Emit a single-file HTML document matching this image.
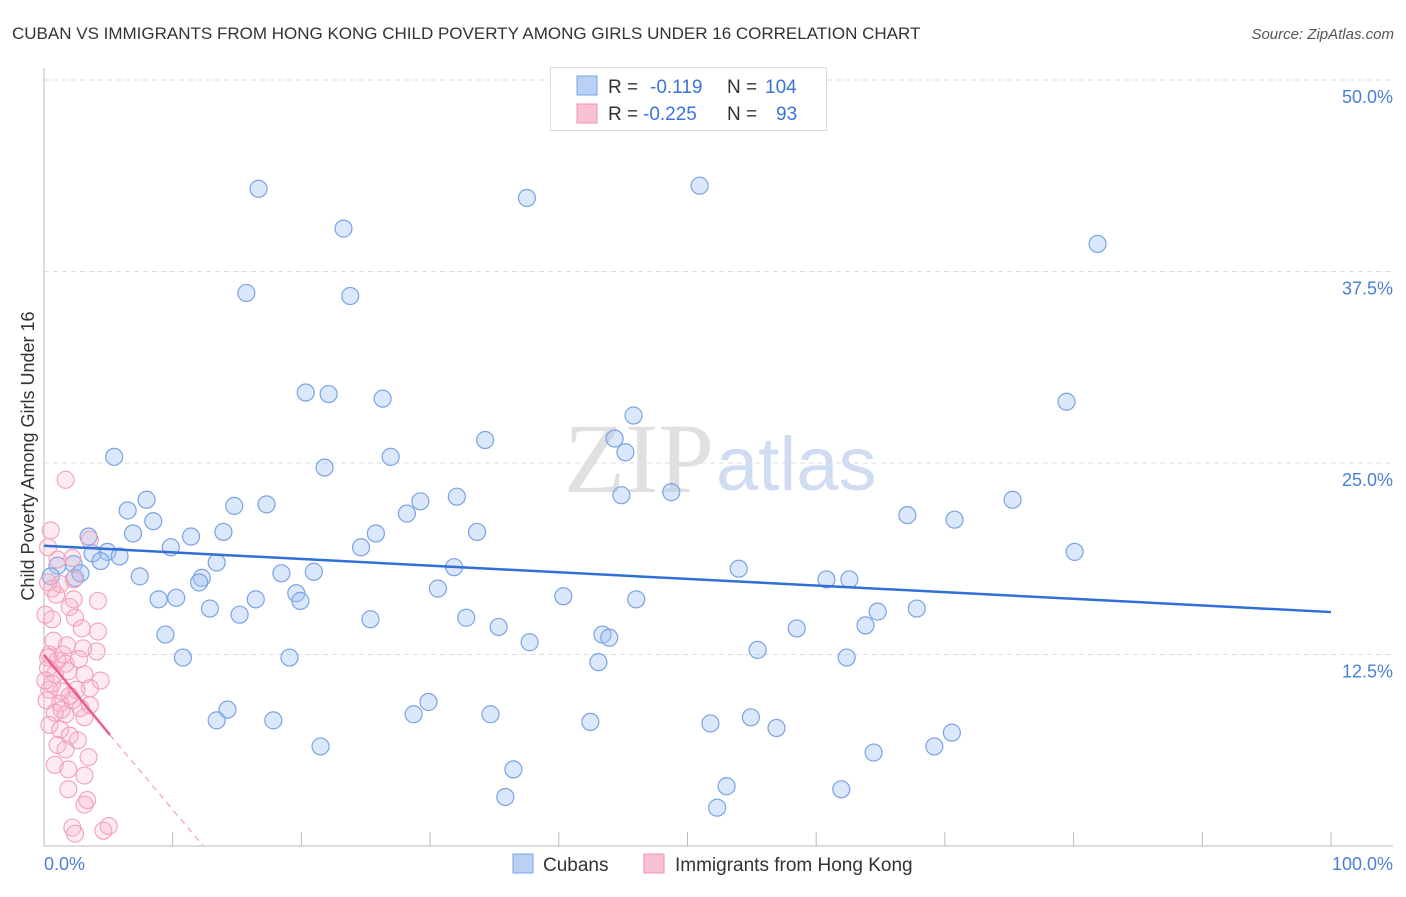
<!DOCTYPE html>
<html><head><meta charset="utf-8"><style>
body{margin:0;background:#fff;font-family:"Liberation Sans",sans-serif;}
</style></head><body>
<svg width="1406" height="892" xmlns="http://www.w3.org/2000/svg" style="font-family:'Liberation Sans',sans-serif">
<text x="12" y="39" font-size="17" fill="#333">CUBAN VS IMMIGRANTS FROM HONG KONG CHILD POVERTY AMONG GIRLS UNDER 16 CORRELATION CHART</text>
<text x="1394" y="39" font-size="15" fill="#555" text-anchor="end" font-style="italic">Source: ZipAtlas.com</text>
<g id="grid"></g>
<text x="714" y="492" font-size="100" fill="#e0e0e0" text-anchor="end" font-family="Liberation Serif">ZIP</text>
<text x="716" y="490" font-size="76" fill="#cfdcf2">atlas</text>
<g id="pts"></g>
<text transform="translate(34,456) rotate(-90)" font-size="18" fill="#333" text-anchor="middle">Child Poverty Among Girls Under 16</text>
<text x="44" y="870" font-size="18" fill="#4a7fd6">0.0%</text>
<text x="1393" y="870" font-size="18" fill="#4a7fd6" text-anchor="end">100.0%</text>
<g>
<rect x="550.5" y="67.5" width="276" height="63" fill="#fff" stroke="#ddd"/>
<rect x="577" y="76" width="20" height="19" fill="#b8d1f5" stroke="#7aa3e5"/>
<rect x="577" y="104" width="20" height="19" fill="#f8c2d3" stroke="#f08fb0"/>
<text x="608" y="93" font-size="19" fill="#333">R =</text>
<text x="650" y="93" font-size="19" fill="#3a74d6">-0.119</text>
<text x="727" y="93" font-size="19" fill="#333">N =</text>
<text x="765" y="93" font-size="19" fill="#3a74d6">104</text>
<text x="608" y="120" font-size="19" fill="#333">R =</text>
<text x="643" y="120" font-size="19" fill="#3a74d6">-0.225</text>
<text x="727" y="120" font-size="19" fill="#333">N =</text>
<text x="776" y="120" font-size="19" fill="#3a74d6">93</text>
</g>
<g>
<rect x="513" y="854" width="20" height="19" fill="#b8d1f5" stroke="#7aa3e5"/>
<text x="543" y="871" font-size="19" fill="#333">Cubans</text>
<rect x="644" y="854" width="20" height="19" fill="#f8c2d3" stroke="#f08fb0"/>
<text x="675" y="871" font-size="19" fill="#333">Immigrants from Hong Kong</text>
</g>
</svg>
<script>
const yTicks=[12.5,25,37.5,50];
const yTickLabels=["12.5%","25.0%","37.5%","50.0%"];
const blueX=[15.9,35.8,48.6,22.2,78.1,15.0,22.7,19.4,21.1,25.1,75.8,43.7,42.3,32.7,43.1,5.2,20.8,25.7,46.5,42.8,30.6,27.9,7.6,14.1,16.5,6.2,26.9,64.0,67.5,71.8,8.1,13.3,3.3,6.6,10.9,32.1,24.6,76.4,9.4,23.5,4.7,3.6,5.6,12.8,4.2,30.4,51.5,1.0,2.2,0.5,2.3,2.7,7.1,17.6,20.0,58.0,59.7,11.7,11.5,29.2,18.7,19.0,8.5,9.8,15.7,38.5,43.9,12.3,14.5,61.8,64.7,24.2,31.3,33.7,9.0,41.4,41.9,55.8,60.9,36.0,52.9,59.5,10.3,18.2,41.1,13.6,17.0,28.5,27.4,33.1,40.5,49.4,52.4,54.3,12.8,20.5,61.5,66.0,67.3,34.8,50.6,34.2,49.9,59.1];
const blueY=[42.9,42.3,43.1,40.3,39.3,36.1,35.9,29.6,29.5,29.2,29.0,28.1,26.6,26.5,25.7,25.4,24.7,25.4,23.1,22.9,22.8,22.5,22.6,22.2,22.3,21.9,21.7,21.6,21.3,22.6,21.2,20.5,20.2,20.4,20.2,20.5,20.4,19.2,19.5,19.5,19.2,19.1,18.9,18.5,18.6,18.2,18.1,18.3,18.4,17.6,17.5,17.8,17.6,17.8,17.9,17.4,17.4,17.5,17.2,16.8,16.5,16.0,16.1,16.2,16.1,16.3,16.1,15.5,15.1,15.3,15.5,14.8,14.9,14.3,13.8,13.8,13.6,14.2,14.4,13.3,12.8,12.3,12.3,12.3,12.0,8.9,8.2,9.4,8.6,8.6,8.1,8.0,8.4,7.7,8.2,6.5,6.1,6.5,7.4,5.0,3.9,3.2,2.5,3.7];
const pinkX=[1.6,0.5,0.3,1.0,2.1,3.4,0.3,1.2,2.2,0.6,0.9,2.2,4.0,1.9,2.3,0.1,2.8,4.0,0.7,1.7,3.9,0.4,1.0,1.6,0.3,0.8,1.8,3.0,3.4,0.4,1.3,2.4,0.2,1.2,2.1,2.7,3.4,0.8,1.6,3.0,0.4,1.2,1.9,2.5,1.0,1.6,3.3,0.8,1.8,3.0,1.8,3.2,3.0,2.1,2.3,4.4,4.8,1.3,0.1,4.2,0.6,2.9,0.3,1.4,2.6,0.6,1.9];
const pinkY=[23.9,20.6,19.5,18.7,18.8,20.0,17.2,17.1,17.4,16.8,16.4,16.1,16.0,15.6,14.9,15.1,14.2,14.0,13.4,13.1,12.7,12.5,12.1,11.9,11.6,11.2,11.4,11.2,10.3,10.2,10.1,10.2,9.5,9.3,9.5,9.0,9.2,8.7,8.6,8.4,7.9,7.6,7.2,6.9,6.6,6.3,5.8,5.3,5.0,4.6,3.7,3.0,2.7,1.2,0.8,1.0,1.3,8.9,10.8,10.8,14.8,12.9,12.3,12.5,12.2,10.6,9.8];
const blueTrend=[19.6,15.27];
const blueTrendX=[0,95.4];
const pinkTrend=[12.47,7.25,0];
const pinkTrendX=[0,4.89,11.8];
const X0=44,X1=1393,Y0=846,YTOP=80;
const sx=v=>X0+v*(X1-X0)/100;
const sy=v=>Y0-v*(Y0-YTOP)/50;
const NS="http://www.w3.org/2000/svg";
function mk(t,a,p){const e=document.createElementNS(NS,t);for(const k in a)e.setAttribute(k,a[k]);p.appendChild(e);return e;}
const grid=document.getElementById('grid');
yTicks.forEach((t,i)=>{
 const l=mk('line',{x1:X0,x2:1393,y1:sy(t),y2:sy(t),stroke:'#ddd','stroke-dasharray':'5,4'},grid);
 
 
 const tx=mk('text',{x:1393,y:sy(t)+23,'font-size':18,fill:'#4a7fd6','text-anchor':'end'},grid);
 tx.textContent=yTickLabels[i];
 
 
});
const ax=mk('line',{x1:X0,x2:X0,y1:68,y2:Y0,stroke:'#bbb'},grid);


const bx=mk('line',{x1:X0,x2:1393,y1:Y0,y2:Y0,stroke:'#bbb'},grid);


for(let i=1;i<=10;i++){const px=X0+i*128.7;
 const t=mk('line',{x1:px,x2:px,y1:832,y2:Y0,stroke:'#bbb'},grid);
 
 }
const pts=document.getElementById('pts');
blueX.forEach((x,i)=>{const c=mk('circle',{cx:sx(x),cy:sy(blueY[i]),r:8.5,fill:'rgba(165,195,242,0.4)',stroke:'#7ba3e3','stroke-width':1.2},pts);
 
 });
pinkX.forEach((x,i)=>{const c=mk('circle',{cx:sx(x),cy:sy(pinkY[i]),r:8.5,fill:'rgba(246,175,199,0.25)',stroke:'#f2a0bc','stroke-width':1.1},pts);
 
 });
const bl=mk('line',{x1:sx(blueTrendX[0]),y1:sy(blueTrend[0]),x2:sx(blueTrendX[1]),y2:sy(blueTrend[1]),stroke:'#2f6fd6','stroke-width':2.5},pts);


const pl=mk('line',{x1:sx(pinkTrendX[0]),y1:sy(pinkTrend[0]),x2:sx(pinkTrendX[1]),y2:sy(pinkTrend[1]),stroke:'#ec5f8c','stroke-width':2.5},pts);


const pd=mk('line',{x1:sx(pinkTrendX[1]),y1:sy(pinkTrend[1]),x2:sx(pinkTrendX[2]),y2:sy(pinkTrend[2]),stroke:'#f0a0ba','stroke-width':1.2,'stroke-dasharray':'6,5'},pts);


</script>
</body></html>
